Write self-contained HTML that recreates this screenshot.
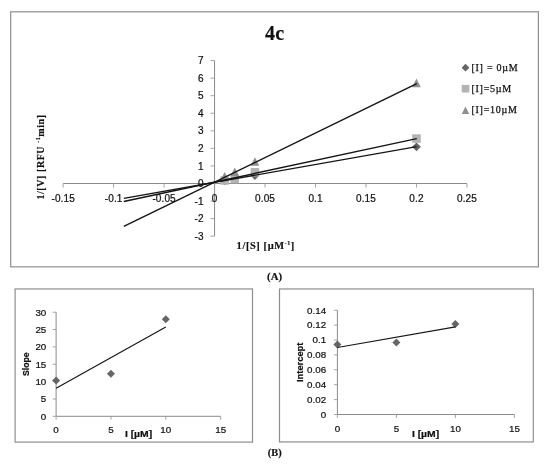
<!DOCTYPE html>
<html lang="en">
<head>
<meta charset="utf-8">
<title>4c Lineweaver-Burk plot</title>
<style>
html,body{margin:0;padding:0;background:#fff;}
body{width:550px;height:466px;overflow:hidden;}
svg{display:block;}
.sans{font-family:"Liberation Sans",Arial,sans-serif;fill:#111;stroke:#111;stroke-width:0.22px;}
.serif{font-family:"Liberation Serif","Times New Roman",serif;fill:#111;}
.b{font-weight:bold;}
.serif.b{stroke:#111;stroke-width:0.18px;}
</style>
</head>
<body>
<svg width="550" height="466" viewBox="0 0 550 466">
<rect x="0" y="0" width="550" height="466" fill="#ffffff"/>

<g fill="none" stroke="#8e8e8e" stroke-width="1.2">
<rect x="10.7" y="11.8" width="527.7" height="255.05"/>
<rect x="15.1" y="288.95" width="237.4" height="153.15"/>
<rect x="279.5" y="288.95" width="253.8" height="153.0"/>
</g>
<text class="serif b" x="274.7" y="40.4" font-size="20" letter-spacing="0.3" stroke="#111" stroke-width="0.3" text-anchor="middle">4c</text>
<g stroke="#8a8a8a" stroke-width="1" fill="none">
<line x1="63.15" y1="183.5" x2="466.94" y2="183.5"/>
<line x1="214.57" y1="60.58" x2="214.57" y2="236.18"/>
<line x1="63.14" y1="183.5" x2="63.14" y2="187.5" stroke="#9a9a9a" stroke-width="0.9"/>
<line x1="113.62" y1="183.5" x2="113.62" y2="187.5" stroke="#9a9a9a" stroke-width="0.9"/>
<line x1="164.09" y1="183.5" x2="164.09" y2="187.5" stroke="#9a9a9a" stroke-width="0.9"/>
<line x1="214.57" y1="183.5" x2="214.57" y2="187.5" stroke="#9a9a9a" stroke-width="0.9"/>
<line x1="265.05" y1="183.5" x2="265.05" y2="187.5" stroke="#9a9a9a" stroke-width="0.9"/>
<line x1="315.52" y1="183.5" x2="315.52" y2="187.5" stroke="#9a9a9a" stroke-width="0.9"/>
<line x1="366.00" y1="183.5" x2="366.00" y2="187.5" stroke="#9a9a9a" stroke-width="0.9"/>
<line x1="416.47" y1="183.5" x2="416.47" y2="187.5" stroke="#9a9a9a" stroke-width="0.9"/>
<line x1="466.94" y1="183.5" x2="466.94" y2="187.5" stroke="#9a9a9a" stroke-width="0.9"/>
<line x1="210.57" y1="236.18" x2="214.57" y2="236.18" stroke="#9a9a9a" stroke-width="0.9"/>
<line x1="210.57" y1="218.62" x2="214.57" y2="218.62" stroke="#9a9a9a" stroke-width="0.9"/>
<line x1="210.57" y1="201.06" x2="214.57" y2="201.06" stroke="#9a9a9a" stroke-width="0.9"/>
<line x1="210.57" y1="183.50" x2="214.57" y2="183.50" stroke="#9a9a9a" stroke-width="0.9"/>
<line x1="210.57" y1="165.94" x2="214.57" y2="165.94" stroke="#9a9a9a" stroke-width="0.9"/>
<line x1="210.57" y1="148.38" x2="214.57" y2="148.38" stroke="#9a9a9a" stroke-width="0.9"/>
<line x1="210.57" y1="130.82" x2="214.57" y2="130.82" stroke="#9a9a9a" stroke-width="0.9"/>
<line x1="210.57" y1="113.26" x2="214.57" y2="113.26" stroke="#9a9a9a" stroke-width="0.9"/>
<line x1="210.57" y1="95.70" x2="214.57" y2="95.70" stroke="#9a9a9a" stroke-width="0.9"/>
<line x1="210.57" y1="78.14" x2="214.57" y2="78.14" stroke="#9a9a9a" stroke-width="0.9"/>
<line x1="210.57" y1="60.58" x2="214.57" y2="60.58" stroke="#9a9a9a" stroke-width="0.9"/>
</g>
<g class="sans" font-size="10" letter-spacing="0.12">
<text x="63.15" y="202.3" text-anchor="middle">-0.15</text>
<text x="113.62" y="202.3" text-anchor="middle">-0.1</text>
<text x="164.09" y="202.3" text-anchor="middle">-0.05</text>
<text x="214.57" y="202.3" text-anchor="middle">0</text>
<text x="265.05" y="202.3" text-anchor="middle">0.05</text>
<text x="315.52" y="202.3" text-anchor="middle">0.1</text>
<text x="366.00" y="202.3" text-anchor="middle">0.15</text>
<text x="416.47" y="202.3" text-anchor="middle">0.2</text>
<text x="466.94" y="202.3" text-anchor="middle">0.25</text>
<text x="203.7" y="239.78" text-anchor="end">-3</text>
<text x="203.7" y="222.22" text-anchor="end">-2</text>
<text x="203.7" y="204.66" text-anchor="end">-1</text>
<text x="203.7" y="187.10" text-anchor="end">0</text>
<text x="203.7" y="169.54" text-anchor="end">1</text>
<text x="203.7" y="151.98" text-anchor="end">2</text>
<text x="203.7" y="134.42" text-anchor="end">3</text>
<text x="203.7" y="116.86" text-anchor="end">4</text>
<text x="203.7" y="99.30" text-anchor="end">5</text>
<text x="203.7" y="81.74" text-anchor="end">6</text>
<text x="203.7" y="64.18" text-anchor="end">7</text>
</g>
<path d="M224.66 176.47L229.06 180.87L224.66 185.27L220.26 180.87Z" fill="#666666"/>
<path d="M234.76 174.71L239.16 179.11L234.76 183.51L230.36 179.11Z" fill="#666666"/>
<path d="M254.95 171.20L259.35 175.60L254.95 180.00L250.55 175.60Z" fill="#666666"/>
<path d="M416.47 142.40L420.87 146.80L416.47 151.20L412.07 146.80Z" fill="#666666"/>
<rect x="220.41" y="176.26" width="8.50" height="8.50" fill="#b3b3b3"/>
<rect x="230.51" y="174.86" width="8.50" height="8.50" fill="#b3b3b3"/>
<rect x="250.70" y="168.01" width="8.50" height="8.50" fill="#b3b3b3"/>
<rect x="412.22" y="134.30" width="8.50" height="8.50" fill="#b3b3b3"/>
<path d="M224.66 171.98L228.97 180.58L220.36 180.58Z" fill="#8f8f8f"/>
<path d="M234.76 167.41L239.06 176.01L230.46 176.01Z" fill="#8f8f8f"/>
<path d="M254.95 157.23L259.25 165.83L250.65 165.83Z" fill="#8f8f8f"/>
<path d="M416.47 78.56L420.77 87.16L412.17 87.16Z" fill="#8f8f8f"/>
<g stroke="#151515" stroke-width="1.45" fill="none" stroke-linecap="butt">
<line x1="123.8" y1="226.4" x2="416.77" y2="83.6"/>
<line x1="123.8" y1="201.55" x2="416.77" y2="138.6"/>
<line x1="123.8" y1="198.4" x2="416.77" y2="146.6"/>
</g>
<path d="M465.50 63.80L469.40 67.70L465.50 71.60L461.60 67.70Z" fill="#666666"/>
<rect x="461.70" y="84.90" width="7.60" height="7.60" fill="#b3b3b3"/>
<path d="M465.50 106.50L469.30 114.10L461.70 114.10Z" fill="#8f8f8f"/>
<g class="serif" font-size="10" letter-spacing="0.75" stroke="#111" stroke-width="0.25">
<text x="471.4" y="70.8">[I] = 0µM</text>
<text x="471.4" y="91.8">[I]=5µM</text>
<text x="471.4" y="113.0">[I]=10µM</text>
</g>
<text class="serif b" font-size="10.4" letter-spacing="0.6" x="236.6" y="248.6">1/[S] [µM<tspan font-size="6" dy="-3.6">-1</tspan><tspan dy="3.6">]</tspan></text>
<text class="serif b" font-size="10" letter-spacing="0.57" transform="translate(43.6 199.6) rotate(-90)">1/[V] [RFU <tspan font-size="6" dy="-3.6">-1</tspan><tspan dy="3.6">min]</tspan></text>
<text class="serif b" font-size="10.8" x="274.6" y="280.3" text-anchor="middle">(A)</text>
<text class="serif b" font-size="10.4" x="274.7" y="456.4" text-anchor="middle">(B)</text>
<g stroke="#8a8a8a" stroke-width="1" fill="none">
<line x1="56.1" y1="416.3" x2="220.65" y2="416.3"/>
<line x1="56.1" y1="312.20" x2="56.1" y2="416.3"/>
<line x1="56.10" y1="416.3" x2="56.10" y2="419.7" stroke="#9a9a9a" stroke-width="0.9"/>
<line x1="110.95" y1="416.3" x2="110.95" y2="419.7" stroke="#9a9a9a" stroke-width="0.9"/>
<line x1="165.80" y1="416.3" x2="165.80" y2="419.7" stroke="#9a9a9a" stroke-width="0.9"/>
<line x1="220.65" y1="416.3" x2="220.65" y2="419.7" stroke="#9a9a9a" stroke-width="0.9"/>
<line x1="52.7" y1="416.30" x2="56.1" y2="416.30" stroke="#9a9a9a" stroke-width="0.9"/>
<line x1="52.7" y1="398.95" x2="56.1" y2="398.95" stroke="#9a9a9a" stroke-width="0.9"/>
<line x1="52.7" y1="381.60" x2="56.1" y2="381.60" stroke="#9a9a9a" stroke-width="0.9"/>
<line x1="52.7" y1="364.25" x2="56.1" y2="364.25" stroke="#9a9a9a" stroke-width="0.9"/>
<line x1="52.7" y1="346.90" x2="56.1" y2="346.90" stroke="#9a9a9a" stroke-width="0.9"/>
<line x1="52.7" y1="329.55" x2="56.1" y2="329.55" stroke="#9a9a9a" stroke-width="0.9"/>
<line x1="52.7" y1="312.20" x2="56.1" y2="312.20" stroke="#9a9a9a" stroke-width="0.9"/>
</g>
<g class="sans" font-size="9.8">
<text x="56.10" y="433.3" text-anchor="middle">0</text>
<text x="110.95" y="433.3" text-anchor="middle">5</text>
<text x="165.80" y="433.3" text-anchor="middle">10</text>
<text x="220.65" y="433.3" text-anchor="middle">15</text>
<text x="46.3" y="419.60" text-anchor="end">0</text>
<text x="46.3" y="402.25" text-anchor="end">5</text>
<text x="46.3" y="384.90" text-anchor="end">10</text>
<text x="46.3" y="367.55" text-anchor="end">15</text>
<text x="46.3" y="350.20" text-anchor="end">20</text>
<text x="46.3" y="332.85" text-anchor="end">25</text>
<text x="46.3" y="315.50" text-anchor="end">30</text>
</g>
<path d="M56.10 376.56L60.10 380.56L56.10 384.56L52.10 380.56Z" fill="#666666"/>
<path d="M110.95 369.79L114.95 373.79L110.95 377.79L106.95 373.79Z" fill="#666666"/>
<path d="M165.80 315.14L169.80 319.14L165.80 323.14L161.80 319.14Z" fill="#666666"/>
<line x1="56.1" y1="388.37" x2="165.80" y2="326.95" stroke="#151515" stroke-width="1.15"/>
<text class="sans b" font-size="9" textLength="23.7" lengthAdjust="spacingAndGlyphs" transform="translate(29.4 376) rotate(-90)">Slope</text>
<text class="sans b" font-size="9.5" textLength="27.3" lengthAdjust="spacingAndGlyphs" x="124.9" y="436.6">I [µM]</text>
<g stroke="#8a8a8a" stroke-width="1" fill="none">
<line x1="337.4" y1="414.5" x2="514.40" y2="414.5"/>
<line x1="337.4" y1="310.20" x2="337.4" y2="414.5"/>
<line x1="337.40" y1="414.5" x2="337.40" y2="417.9" stroke="#9a9a9a" stroke-width="0.9"/>
<line x1="396.40" y1="414.5" x2="396.40" y2="417.9" stroke="#9a9a9a" stroke-width="0.9"/>
<line x1="455.40" y1="414.5" x2="455.40" y2="417.9" stroke="#9a9a9a" stroke-width="0.9"/>
<line x1="514.40" y1="414.5" x2="514.40" y2="417.9" stroke="#9a9a9a" stroke-width="0.9"/>
<line x1="334.0" y1="414.50" x2="337.4" y2="414.50" stroke="#9a9a9a" stroke-width="0.9"/>
<line x1="334.0" y1="399.60" x2="337.4" y2="399.60" stroke="#9a9a9a" stroke-width="0.9"/>
<line x1="334.0" y1="384.70" x2="337.4" y2="384.70" stroke="#9a9a9a" stroke-width="0.9"/>
<line x1="334.0" y1="369.80" x2="337.4" y2="369.80" stroke="#9a9a9a" stroke-width="0.9"/>
<line x1="334.0" y1="354.90" x2="337.4" y2="354.90" stroke="#9a9a9a" stroke-width="0.9"/>
<line x1="334.0" y1="340.00" x2="337.4" y2="340.00" stroke="#9a9a9a" stroke-width="0.9"/>
<line x1="334.0" y1="325.10" x2="337.4" y2="325.10" stroke="#9a9a9a" stroke-width="0.9"/>
<line x1="334.0" y1="310.20" x2="337.4" y2="310.20" stroke="#9a9a9a" stroke-width="0.9"/>
</g>
<g class="sans" font-size="9.8">
<text x="337.40" y="432.0" text-anchor="middle">0</text>
<text x="396.40" y="432.0" text-anchor="middle">5</text>
<text x="455.40" y="432.0" text-anchor="middle">10</text>
<text x="514.40" y="432.0" text-anchor="middle">15</text>
<text x="326.2" y="417.80" text-anchor="end">0</text>
<text x="326.2" y="402.90" text-anchor="end">0.02</text>
<text x="326.2" y="388.00" text-anchor="end">0.04</text>
<text x="326.2" y="373.10" text-anchor="end">0.06</text>
<text x="326.2" y="358.20" text-anchor="end">0.08</text>
<text x="326.2" y="343.30" text-anchor="end">0.1</text>
<text x="326.2" y="328.40" text-anchor="end">0.12</text>
<text x="326.2" y="313.50" text-anchor="end">0.14</text>
</g>
<path d="M337.40 340.47L341.40 344.47L337.40 348.47L333.40 344.47Z" fill="#666666"/>
<path d="M396.40 338.46L400.40 342.46L396.40 346.46L392.40 342.46Z" fill="#666666"/>
<path d="M455.40 320.06L459.40 324.06L455.40 328.06L451.40 324.06Z" fill="#666666"/>
<line x1="337.4" y1="347.45" x2="455.40" y2="326.81" stroke="#151515" stroke-width="1.15"/>
<text class="sans b" font-size="9" textLength="39.4" lengthAdjust="spacingAndGlyphs" transform="translate(302.6 382) rotate(-90)">Intercept</text>
<text class="sans b" font-size="9.5" textLength="27.3" lengthAdjust="spacingAndGlyphs" x="411.9" y="436.8">I [µM]</text>
</svg>
</body>
</html>
